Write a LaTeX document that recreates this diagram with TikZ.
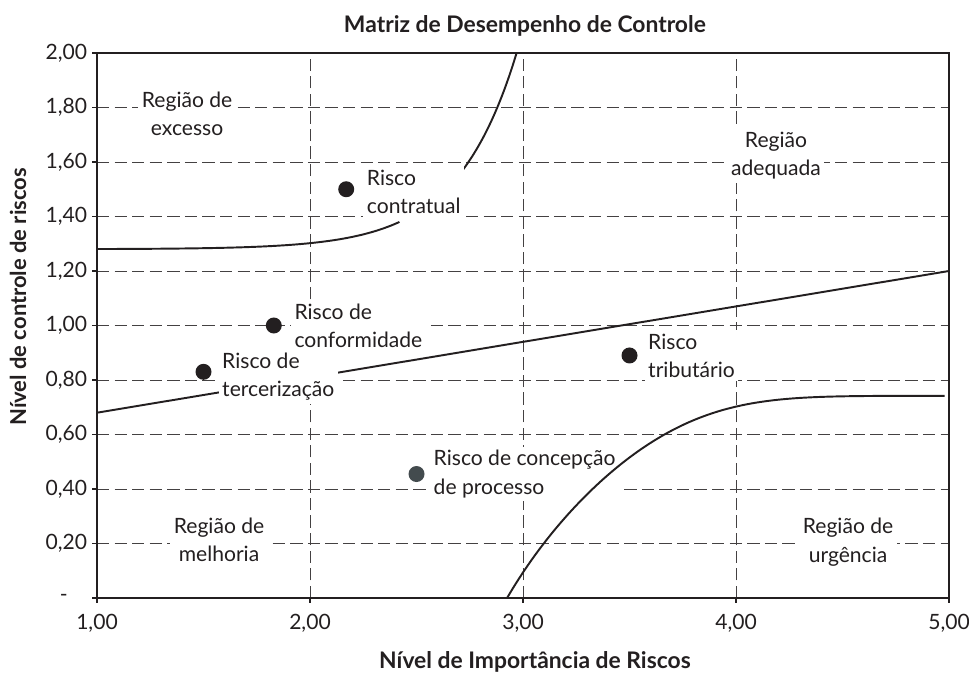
\documentclass[tikz,border=0pt]{standalone}
\usepackage{fontspec}
\setmainfont{Lato}
\usetikzlibrary{positioning}

\definecolor{ink}{HTML}{231F20}
\definecolor{slate}{HTML}{434B4E}

\tikzset{
  gridline/.style={ink!85, line width=0.5pt, dash pattern=on 7pt off 3pt},
  frame/.style={ink, line width=1.6pt},
  limit/.style={ink, line width=1.1pt},
  tick/.style={ink, line width=0.8pt},
  ticklabel/.style={inner sep=0pt, text=ink},
  region/.style={align=center, fill=white, inner sep=2pt, text=ink},
  risk/.style={align=left, fill=white, inner sep=2pt, text=ink},
  dot/.style={circle, fill=ink, inner sep=0pt, minimum size=0.32cm},
  heading/.style={font=\fontsize{13}{16}\selectfont\bfseries, text=ink},
}

\begin{document}
\begin{tikzpicture}[x=4.26cm, y=5.45cm, font=\fontsize{12}{16}\selectfont]
  \useasboundingbox (0.5446,-0.2899) rectangle (5.0939,2.1945);
  % Grid
  \foreach \v in {0.2,0.4,...,1.8} {
    \draw[gridline] (1,\v) -- (5,\v);
  }
  \foreach \u in {2,3,4} {
    \draw[gridline] (\u,0) -- (\u,2);
  }
  % Limits behind the labels
  \draw[limit] (1,0.68) -- (5,1.20);
  \draw[limit, domain=1:2.42, smooth, samples=40] plot (\x, {1.28+0.1*exp(3.59*(\x-2.42))});
  \draw[limit, domain=2.643:2.97, smooth, samples=20] plot (\x, {1.28+0.1*exp(3.59*(\x-2.42))});
  % Regions
  \node[region] (excesso) at (1.423,1.776) {Região de\\excesso};
  \node[region] (adequada) at (4.188,1.622) {Região\\adequada};
  \node[region] (melhoria) at (1.573,0.213) {Região de\\melhoria};
  \node[region] (urgencia) at (4.526,0.205) {Região de\\urgência};
  % Risks
  \node[dot] (contratual) at (2.17,1.50) {};
  \node[dot] (conformidade) at (1.83,1.00) {};
  \node[dot] (tercerizacao) at (1.50,0.83) {};
  \node[dot] (tributario) at (3.50,0.89) {};
  \node[dot, fill=slate] (concepcao) at (2.50,0.455) {};
  \node[risk, right=0.17cm of contratual, yshift=-0.05cm] (contratual label) {Risco\\contratual};
  \node[risk, right=0.17cm of conformidade] (conformidade label) {Risco de\\conformidade};
  \node[risk, right=0.13cm of tercerizacao, yshift=-0.1cm] (tercerizacao label) {Risco de\\tercerização};
  \node[risk, right=0.13cm of tributario] (tributario label) {Risco\\tributário};
  \node[risk, right=0.1cm of concepcao] (concepcao label) {Risco de concepção\\de processo};
  % Lower limit, over the labels
  \draw[limit, domain=2.925:4.98, smooth, samples=80]
    plot (\x, {0.742*(1-exp(-(1.8*(\x-2.925)+0.8*(\x-2.925)^3)))});
  % Axis
  \draw[frame] (1,0) rectangle (5,2);
  \foreach \v/\t in {0.2/{0,20},0.4/{0,40},0.6/{0,60},0.8/{0,80},1.0/{1,00},1.2/{1,20},1.4/{1,40},1.6/{1,60},1.8/{1,80},2.0/{2,00}} {
    \draw[tick] (1,\v) -- ++(-0.1cm,0);
    \node[ticklabel, anchor=east] (y\v) at (0.955,\v) {\t};
  }
  \draw[tick] (1,0) -- ++(-0.1cm,0);
  \node[ticklabel, anchor=east] (y0) at (0.864,0) {-};
  \foreach \u in {1,2,3,4,5} {
    \draw[tick] (\u,0) -- ++(0,-0.1cm);
    \node[ticklabel] (x\u) at (\u,-0.092) {\u,00};
  }
  % Titles
  \node[heading] (title) at (3.009,2.10) {Matriz de Desempenho de Controle};
  \node[heading] (xtitle) at (3.056,-0.235) {Nível de Importância de Riscos};
  \node[heading, font=\fontsize{12.5}{16}\selectfont\bfseries, rotate=90] (ytitle) at (0.629,1.105) {Nível de controle de riscos};
\end{tikzpicture}
\end{document}
